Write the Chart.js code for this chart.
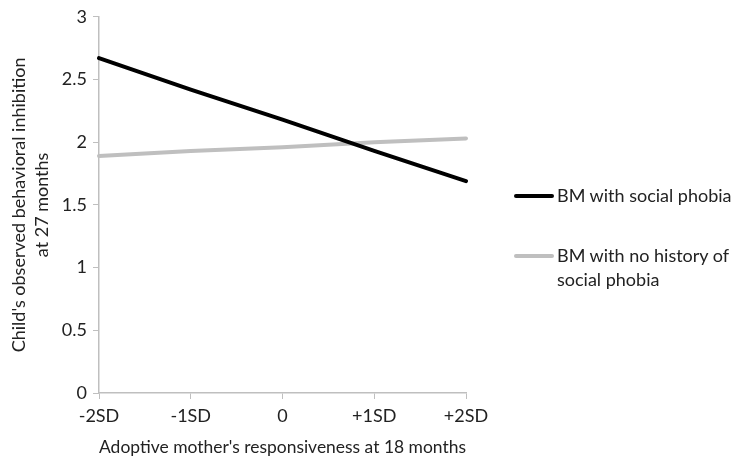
<!DOCTYPE html>
<html>
<head>
<meta charset="utf-8">
<script src="https://cdn.jsdelivr.net/npm/chart.js@4"></script>
<style>
  body { margin: 0; background: #fff; }
  #wrap { position: relative; width: 737px; height: 462px; }
  #legend { position: absolute; left: 514px; top: 183px; font-family: Lato, "Open Sans", sans-serif; font-size: 18px; color: #222; }
  .item { position: relative; padding-left: 43px; line-height: 24px; }
  .item span.swatch { position: absolute; left: 0; top: 11px; width: 40px; height: 4px; border-radius: 2px; }
</style>
</head>
<body>
<div id="wrap">
  <canvas id="graph" width="737" height="462"></canvas>
  <div id="legend"></div>
</div>
<script>
// categories and series
var categories = ['-2SD', '-1SD', '0', '+1SD', '+2SD'];
var socialPhobia = [2.67, 2.42, 2.18, 1.93, 1.69];
var noHistory = [1.89, 1.93, 1.96, 2.00, 2.03];
var seriesNames = ['BM with social phobia', 'BM with no history of social phobia'];
var seriesColors = ['#000000', '#bfbfbf'];

var font = 'Lato, "Open Sans", sans-serif';
var axisGray = '#bfbfbf';
var textColor = '#222';

// legend as html (real text)
var legend = document.getElementById('legend');
seriesNames.forEach(function (name, i) {
    var div = document.createElement('div');
    div.className = 'item';
    div.style.marginBottom = i === 0 ? '36px' : '0';
    if (i === 1) div.innerHTML = '<span class="swatch"></span>BM with no history of<br>social phobia';
    else div.innerHTML = '<span class="swatch"></span>' + name;
    div.querySelector('.swatch').style.background = seriesColors[i];
    legend.appendChild(div);
});

new Chart(document.getElementById('graph'), {
    type: 'line',
    data: {
        labels: categories,
        datasets: [{
            label: seriesNames[0],
            data: socialPhobia,
            borderColor: seriesColors[0],
            borderWidth: 4,
            pointRadius: 0,
            borderCapStyle: 'round'
        }, {
            label: seriesNames[1],
            data: noHistory,
            borderColor: seriesColors[1],
            borderWidth: 4,
            pointRadius: 0,
            borderCapStyle: 'round'
        }]
    },
    options: {
        responsive: false,
        animation: false,
        layout: { padding: { top: 14, right: 271, left: 8, bottom: 0 } },
        plugins: { legend: { display: false }, tooltip: { enabled: false } },
        scales: {
            x: {
                offset: false,
                grid: { drawOnChartArea: false, color: axisGray, tickLength: 6 },
                border: { color: axisGray, width: 1.5 },
                ticks: { color: textColor, font: { family: font, size: 18 }, padding: 6, maxRotation: 0 },
                title: { display: true, text: "Adoptive mother's responsiveness at 18 months", color: textColor, font: { family: font, size: 18 }, padding: { top: 4 } },
                afterFit: function (s) { s.height = 69; }
            },
            y: {
                min: 0, max: 3,
                ticks: {
                    stepSize: 0.5, color: textColor, font: { family: font, size: 18 }, padding: 6,
                    callback: function (v) { return String(v); }
                },
                grid: { drawOnChartArea: false, color: axisGray, tickLength: 6 },
                border: { color: axisGray, width: 1.5 },
                title: { display: true, text: ["Child's observed behavioral inhibition", 'at 27 months'], color: textColor, font: { family: font, size: 18, lineHeight: 1.25 }, padding: 0 },
                afterFit: function (s) { s.width = 91; }
            }
        }
    }
});
</script>
</body>
</html>
